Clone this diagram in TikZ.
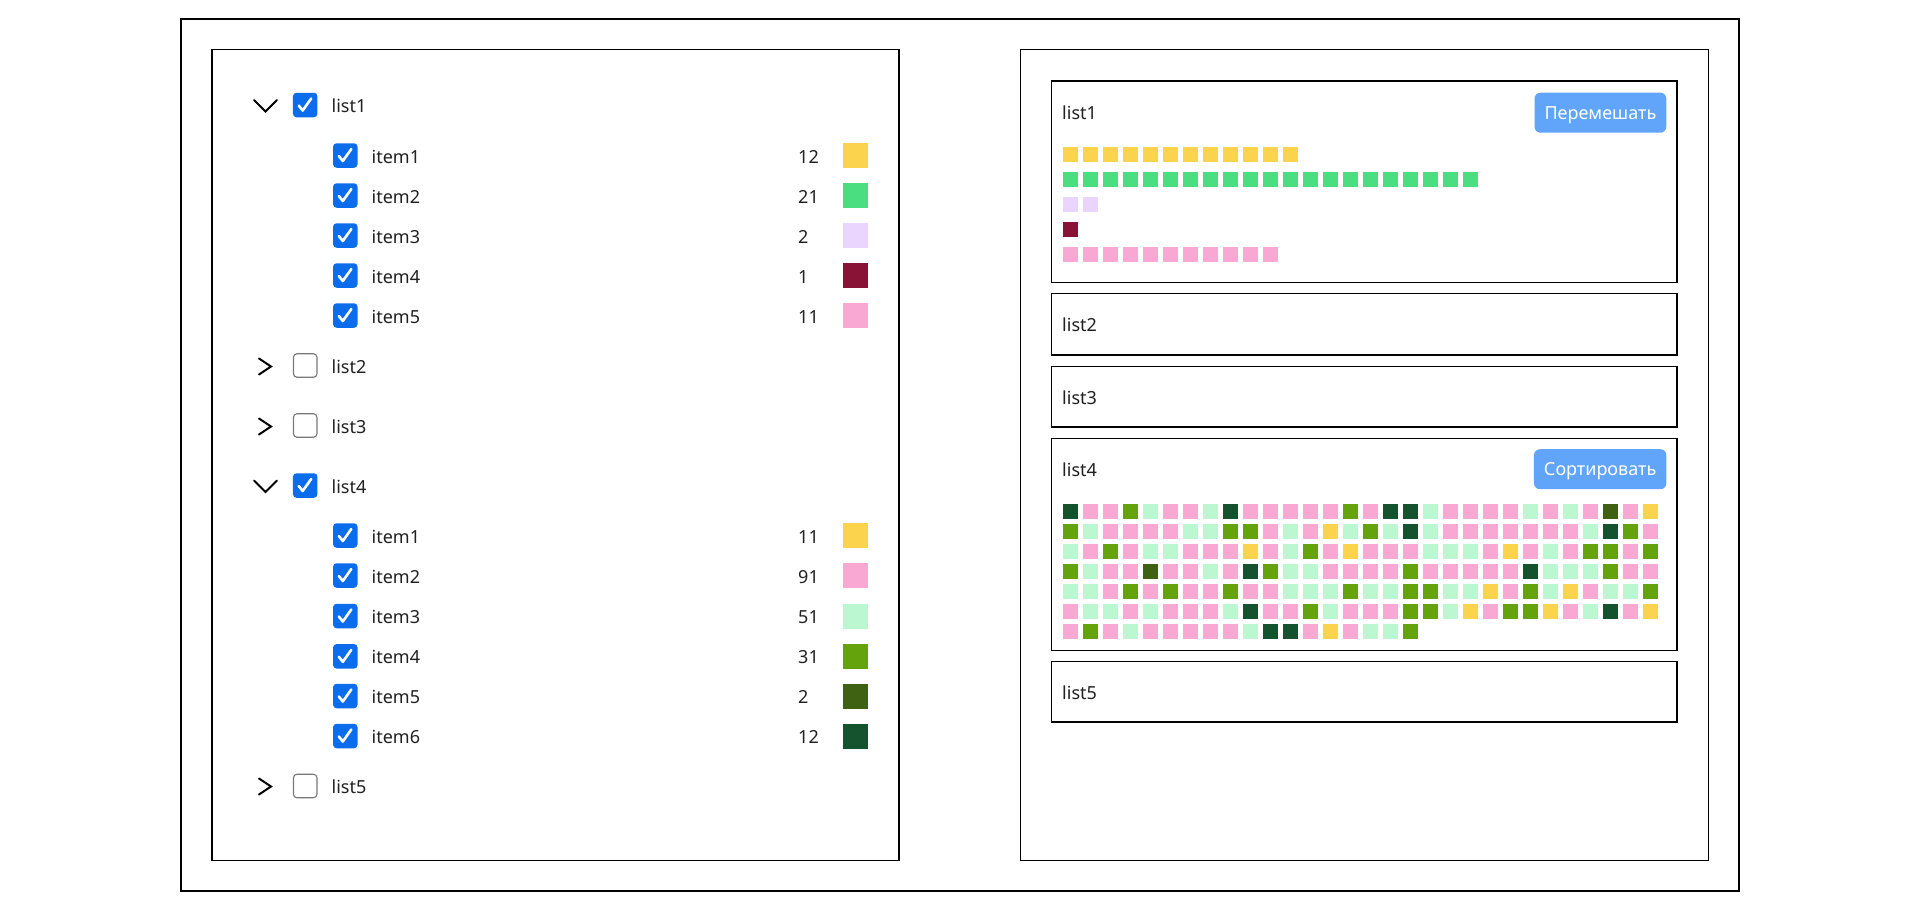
\documentclass[tikz,border=0pt]{standalone}
\usepackage{fontspec}
\setmainfont{Noto Sans}
\definecolor{txtc}{RGB}{33,33,33}
\definecolor{cbblue}{RGB}{11,108,236}
\definecolor{cbgray}{RGB}{120,120,120}
\definecolor{btnblue}{RGB}{96,165,250}
\definecolor{cY}{RGB}{252,211,77}
\definecolor{cLG}{RGB}{74,222,128}
\definecolor{cL}{RGB}{233,213,255}
\definecolor{cR}{RGB}{136,19,55}
\definecolor{cP}{RGB}{249,168,212}
\definecolor{cM}{RGB}{187,247,208}
\definecolor{cG}{RGB}{101,163,13}
\definecolor{cD}{RGB}{63,98,18}
\definecolor{cF}{RGB}{20,83,45}
\newcommand{\TickIn}[1]{\draw[tick] ([shift={(-6.5,0.5)}]#1.center) -- ([shift={(-2.5,5.5)}]#1.center) -- ([shift={(6,-6.5)}]#1.center);}
\newcommand{\ItemRow}[5]{%
  \node[cbon] (cb#1) at (345.3,#2) {};
  \TickIn{cb#1}
  \node[txt] (lab#1) at (371.5,#2+7.5) {#3};
  \node[txt] (num#1) at (798,#2+7.5) {#4};
  \node[swatch, fill=#5] (sw#1) at (855.5,#2) {};
}
\newcommand{\ListRow}[4]{% id, y, label, state(on/off)
  \node[cb#4] (cb#1) at (305.2,#2) {};
  \node[txt] (lab#1) at (331.5,#2+7.5) {#3};
}
\begin{document}
\begin{tikzpicture}[x=1pt,y=-1pt,
  frame/.style={draw=black, line width=1.3pt},
  txt/.style={inner sep=0pt, anchor=base west, font=\fontsize{18}{22}\selectfont, text=txtc},
  cbon/.style={fill=cbblue, rounded corners=3.5pt, minimum size=24.5pt, inner sep=0pt},
  cboff/.style={draw=cbgray, line width=1.1pt, fill=white, rounded corners=3.5pt, minimum size=23.5pt, inner sep=0pt},
  chev/.style={draw=black, line width=2pt, line cap=round, line join=miter},
  tick/.style={draw=white, line width=2.6pt, line cap=round, line join=round},
  swatch/.style={minimum size=25pt, inner sep=0pt},
  btn/.style={fill=btnblue, rounded corners=6pt, text=white, font=\fontsize{18}{22}\selectfont, inner xsep=10pt, inner ysep=0pt, minimum height=40pt, text height=13pt, text depth=0pt},
]
\useasboundingbox (0,0) rectangle (1917,908);
\fill[white] (0,0) rectangle (1917,908);
% frames
\draw[frame] (181,19) rectangle (1739,891);
\draw[frame] (212,49.3) rectangle (899,860.5);
\draw[frame] (1020.3,49.3) rectangle (1708.7,860.5);

% ---------- left tree ----------
% list1
\draw[chev] (254,100) -- (265.5,111.5) -- (277,100);
\ListRow{L1}{105}{list1}{on}
\TickIn{cbL1}
\ItemRow{A1}{155.5}{item1}{12}{cY}
\ItemRow{A2}{195.5}{item2}{21}{cLG}
\ItemRow{A3}{235.5}{item3}{2}{cL}
\ItemRow{A4}{275.5}{item4}{1}{cR}
\ItemRow{A5}{315.5}{item5}{11}{cP}
% list2
\draw[chev] (259,358.5) -- (271,366.5) -- (259,374.5);
\ListRow{L2}{365.5}{list2}{off}
% list3
\draw[chev] (259,418.5) -- (271,426.5) -- (259,434.5);
\ListRow{L3}{425.5}{list3}{off}
% list4
\draw[chev] (254,480.5) -- (265.5,492) -- (277,480.5);
\ListRow{L4}{485.5}{list4}{on}
\TickIn{cbL4}
\ItemRow{B1}{535.5}{item1}{11}{cY}
\ItemRow{B2}{575.5}{item2}{91}{cP}
\ItemRow{B3}{616}{item3}{51}{cM}
\ItemRow{B4}{656.3}{item4}{31}{cG}
\ItemRow{B5}{696}{item5}{2}{cD}
\ItemRow{B6}{736}{item6}{12}{cF}
% list5
\draw[chev] (259,778.5) -- (271,786.5) -- (259,794.5);
\ListRow{L5}{786}{list5}{off}

% ---------- right cards ----------
\draw[frame] (1051.5,81) rectangle (1677,282.5);
\draw[frame] (1051.5,293.7) rectangle (1677,355);
\draw[frame] (1051.5,366.7) rectangle (1677,427);
\draw[frame] (1051.5,438.5) rectangle (1677,650.5);
\draw[frame] (1051.5,661.7) rectangle (1677,722);

\node[txt] (c1) at (1062,119.5) {list1};
\node[txt] (c2) at (1062,331.5) {list2};
\node[txt] (c3) at (1062,404) {list3};
\node[txt] (c4) at (1062,476) {list4};
\node[txt] (c5) at (1062,699) {list5};

\node[btn, anchor=north east] (shuffle) at (1666.5,92.5) {Перемешать};
\node[btn, anchor=north east] (sort) at (1666.5,449) {Сортировать};

% list1 bars
\foreach \i in {0,...,11} \fill[cY] (1063+20*\i,147) rectangle +(15,15);
\foreach \i in {0,...,20} \fill[cLG] (1063+20*\i,172) rectangle +(15,15);
\foreach \i in {0,...,1} \fill[cL] (1063+20*\i,197) rectangle +(15,15);
\fill[cR] (1063,222) rectangle +(15,15);
\foreach \i in {0,...,10} \fill[cP] (1063+20*\i,247) rectangle +(15,15);

% list4 grid
\foreach \row [count=\r from 0] in {
 {F,P,P,G,M,P,P,M,F,P,P,P,P,P,G,P,F,F,M,P,P,P,P,M,P,M,P,D,P,Y},
 {G,M,P,P,P,P,M,M,G,G,P,M,P,Y,M,G,M,F,M,P,P,P,P,P,P,P,M,F,G,P},
 {M,P,G,P,M,M,P,P,P,Y,P,M,G,P,Y,P,P,P,M,M,M,P,Y,P,M,P,G,G,P,G},
 {G,M,P,P,D,P,P,M,P,F,G,M,M,P,P,P,P,G,P,P,P,P,P,F,M,M,M,G,P,P},
 {M,M,P,G,P,G,P,P,G,P,P,M,M,M,G,M,M,G,G,M,M,Y,P,G,M,Y,P,M,M,G},
 {P,M,M,P,M,P,P,P,M,F,P,P,G,M,P,P,P,G,G,M,Y,P,G,G,Y,P,M,F,P,Y},
 {P,G,P,M,P,P,P,P,P,M,F,F,P,Y,P,M,M,G}} {
  \foreach \c [count=\k from 0] in \row {
    \fill[fill=c\c] (1063+20*\k,504+20*\r) rectangle +(15,15);
  }
}
\end{tikzpicture}
\end{document}
